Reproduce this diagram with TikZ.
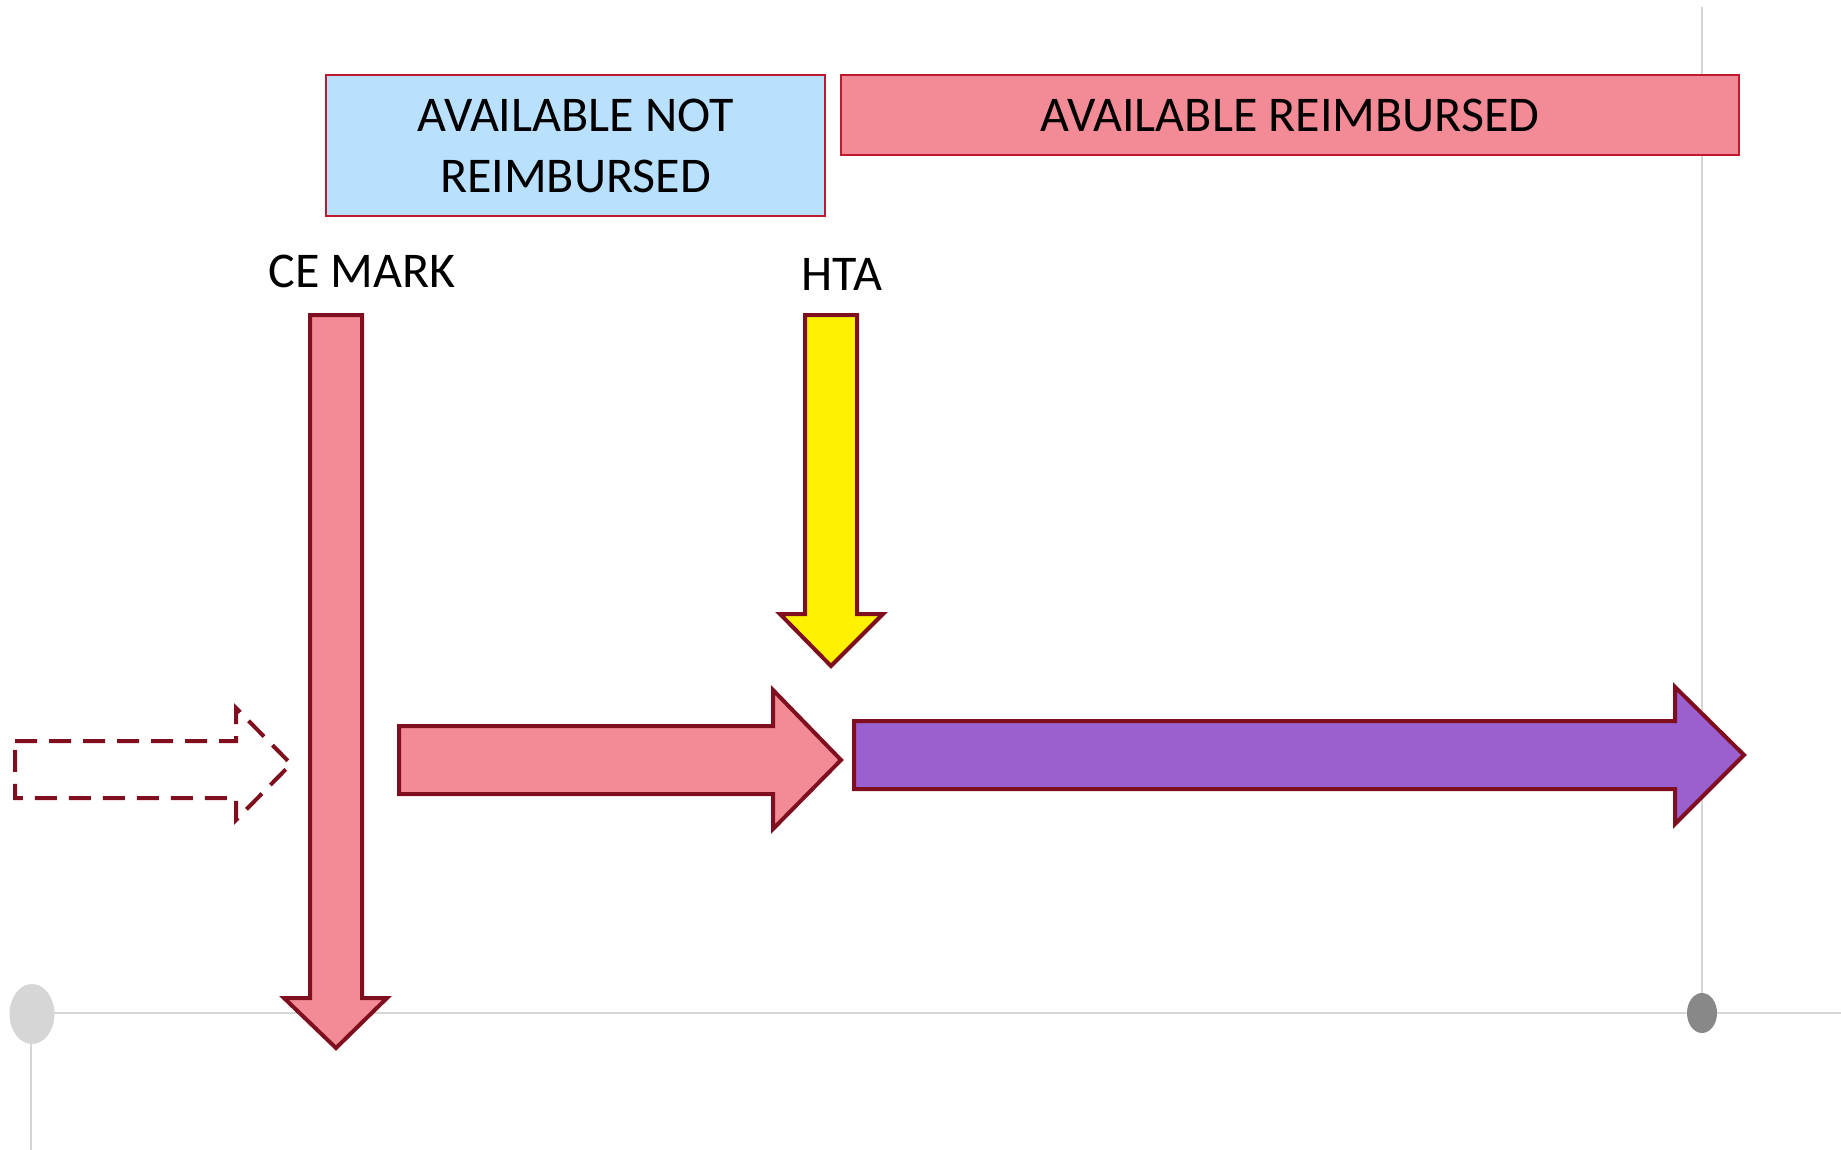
\documentclass[tikz,border=0pt]{standalone}
\usepackage{fontspec}
\setmainfont{Carlito}
\usetikzlibrary{shapes.geometric}
\definecolor{pinkfill}{HTML}{F38B97}
\definecolor{darkred}{HTML}{7F0F1E}
\definecolor{boxred}{HTML}{C0182E}
\definecolor{bluefill}{HTML}{B9E0FC}
\definecolor{purplefill}{HTML}{9A60D0}
\definecolor{gridgray}{HTML}{D6D6D6}
\definecolor{dotgray}{HTML}{888888}
\tikzset{
  bigarrow/.style={draw=darkred,line width=4pt,line join=miter},
  labelbox/.style={draw=boxred,line width=1.5pt,inner sep=0pt,font=\fontsize{50}{61}\selectfont,align=center,text=black},
  labeltext/.style={font=\fontsize{50}{61}\selectfont,text=black,inner sep=0pt},
  gridline/.style={draw=gridgray,line width=2pt}
}
\begin{document}
\begin{tikzpicture}[x=1pt,y=-1pt]
\useasboundingbox (0,0) rectangle (1841,1150);
% grid lines
\draw[gridline] (54,1013) -- (1841,1013);
\draw[gridline] (31,1040) -- (31,1150);
\draw[gridline] (1702,7) -- (1702,995);
\node[ellipse,fill=gridgray,minimum width=45pt,minimum height=60pt,inner sep=0pt] (lc) at (32,1014) {};
\node[ellipse,fill=dotgray,minimum width=30pt,minimum height=40pt,inner sep=0pt] (rc) at (1702,1013) {};
% label boxes
\node[labelbox,fill=bluefill,minimum width=499pt,minimum height=141pt] (anr) at (575.5,145.5) {AVAILABLE NOT\\REIMBURSED};
\node[labelbox,fill=pinkfill,minimum width=898pt,minimum height=80pt] (ar) at (1290,115) {AVAILABLE REIMBURSED};
\node[labeltext] (ce) at (362,271) {CE MARK};
\node[labeltext] (hta) at (842,274) {HTA};
% CE mark down arrow
\draw[bigarrow,fill=pinkfill] (310,315) -- (362,315) -- (362,998) -- (387,998) -- (336,1048) -- (284,998) -- (310,998) -- cycle;
% HTA down arrow
\draw[bigarrow,fill=yellow] (805,315) -- (857,315) -- (857,614) -- (883,614) -- (831,666) -- (780,614) -- (805,614) -- cycle;
% dashed arrow
\draw[bigarrow,dashed,dash pattern=on 22pt off 12pt] (15,741) -- (236,741) -- (236,708) -- (291,764) -- (236,820) -- (236,798) -- (15,798) -- cycle;
% pink horizontal arrow
\draw[bigarrow,fill=pinkfill] (399,726) -- (773,726) -- (773,690) -- (841,760) -- (773,829) -- (773,794) -- (399,794) -- cycle;
% purple arrow
\draw[bigarrow,fill=purplefill] (854,721) -- (1675,721) -- (1675,687) -- (1744,755) -- (1675,824) -- (1675,789) -- (854,789) -- cycle;
\end{tikzpicture}
\end{document}
